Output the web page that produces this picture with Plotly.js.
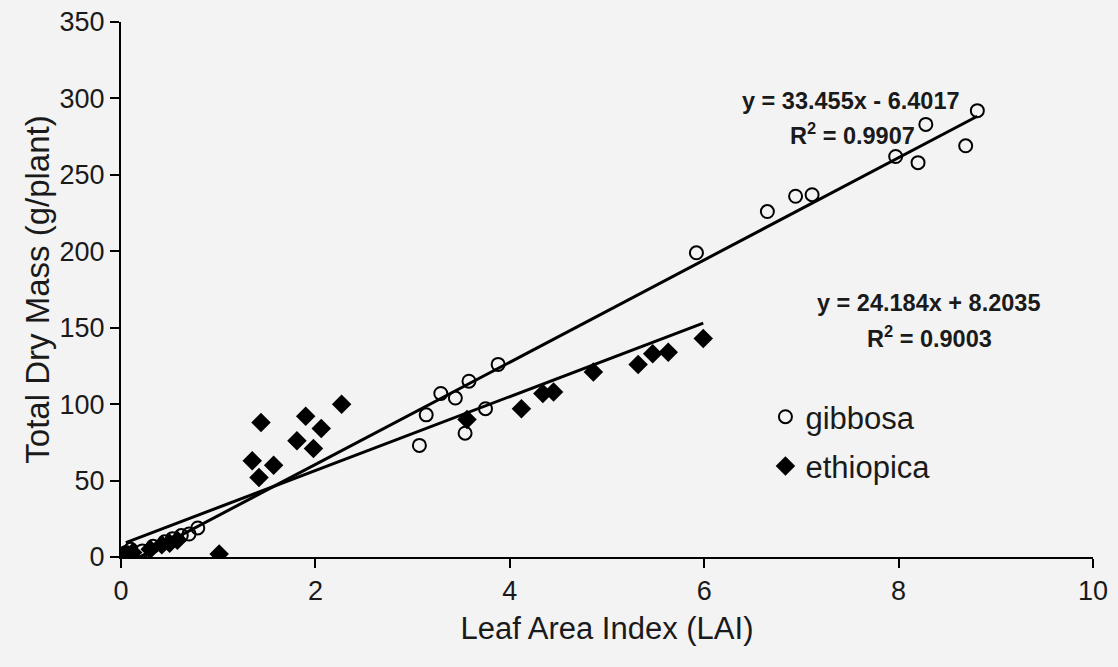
<!DOCTYPE html>
<html>
<head>
<meta charset="utf-8">
<script src="https://cdn.plot.ly/plotly-3.0.1.min.js"></script>
<style>
  html, body { margin: 0; padding: 0; background: #f3f3f3; }
  #chart { width: 1118px; height: 667px; }
</style>
</head>
<body>
<div id="chart"></div>
<script>
// Leaf area index vs. total dry mass for two species
const gibbosaLAI  = [0.05, 0.10, 0.22, 0.33, 0.45, 0.53, 0.62, 0.70, 0.79,
                     3.07, 3.14, 3.29, 3.44, 3.54, 3.58, 3.75, 3.88,
                     5.92, 6.65, 6.94, 7.11, 7.97, 8.20, 8.28, 8.69, 8.81];
const gibbosaMass = [3, 5, 4, 7, 10, 12, 14, 15, 19,
                     73, 93, 107, 104, 81, 115, 97, 126,
                     199, 226, 236, 237, 262, 258, 283, 269, 292];

const ethiopicaLAI  = [0.05, 0.12, 0.30, 0.42, 0.50, 0.58, 1.01,
                       1.35, 1.42, 1.44, 1.57, 1.81, 1.90, 1.98, 2.06, 2.27,
                       3.56, 4.12, 4.34, 4.45, 4.86, 5.32, 5.47, 5.63, 5.99];
const ethiopicaMass = [2, 3, 5, 8, 9, 11, 2,
                       63, 52, 88, 60, 76, 92, 71, 84, 100,
                       90, 97, 107, 108, 121, 126, 133, 134, 143];

// Linear fits (slope, intercept, R²)
const gibbosaFit   = { slope: 33.455, intercept: -6.4017, r2: "0.9907" };
const ethiopicaFit = { slope: 24.184, intercept: 8.2035,  r2: "0.9003" };

const xTicks = [0, 2, 4, 6, 8, 10];
const yTicks = [0, 50, 100, 150, 200, 250, 300, 350];

function fitLine(xs, fit) {
  const x0 = Math.min(...xs), x1 = Math.max(...xs);
  return { x: [x0, x1], y: [fit.slope * x0 + fit.intercept, fit.slope * x1 + fit.intercept] };
}
const gLine = fitLine(gibbosaLAI, gibbosaFit);
const eLine = fitLine(ethiopicaLAI, ethiopicaFit);

function eqText(fit) {
  const sign = fit.intercept < 0 ? "-" : "+";
  return "y = " + fit.slope.toFixed(3) + "x " + sign + " " + Math.abs(fit.intercept).toFixed(4);
}

const FONT = "Liberation Sans, Arial, sans-serif";
const INK = "#1a1a1a";
const eqFont = { family: FONT, size: 23.5, color: INK, weight: "bold" };

const traces = [
  { x: gLine.x, y: gLine.y, mode: "lines", line: { color: "#000", width: 3 },
    showlegend: false, hoverinfo: "skip" },
  { x: eLine.x, y: eLine.y, mode: "lines", line: { color: "#000", width: 3 },
    showlegend: false, hoverinfo: "skip" },
  { x: gibbosaLAI, y: gibbosaMass, mode: "markers", name: "gibbosa", legendgroup: "g",
    marker: { symbol: "circle-open", size: 13, color: "#000", line: { width: 2, color: "#000" } } },
  { x: ethiopicaLAI, y: ethiopicaMass, mode: "markers", name: "ethiopica", legendgroup: "e",
    marker: { symbol: "diamond", size: 15, color: "#000" } }
];

const layout = {
  width: 1118, height: 667,
  paper_bgcolor: "#f3f3f3", plot_bgcolor: "rgba(0,0,0,0)",
  margin: { l: 121, r: 25, t: 22, b: 110 },
  font: { family: FONT, color: INK, size: 24 },
  xaxis: {
    range: [0, 10], tickvals: xTicks, ticktext: xTicks.map(String),
    showgrid: false, zeroline: false, showline: true, linecolor: "#000", linewidth: 2,
    ticks: "outside", ticklen: 9, tickwidth: 2, tickcolor: "#000",
    tickfont: { family: FONT, size: 27, color: INK },
    title: { text: "Leaf Area Index (LAI)", font: { family: FONT, size: 31, color: INK }, standoff: 12 }
  },
  yaxis: {
    range: [0, 350], tickvals: yTicks, ticktext: yTicks.map(String),
    showgrid: false, zeroline: false, showline: true, linecolor: "#000", linewidth: 2,
    ticks: "outside", ticklen: 9, tickwidth: 2, tickcolor: "#000",
    tickfont: { family: FONT, size: 27, color: INK },
    title: { text: "Total Dry Mass (g/plant)", font: { family: FONT, size: 33, color: INK }, standoff: 0 }
  },
  legend: {
    x: 0.663, y: 0.312, xanchor: "left", yanchor: "top",
    bgcolor: "rgba(0,0,0,0)", font: { family: FONT, size: 31, color: INK },
    itemwidth: 30, tracegroupgap: 6
  },
  annotations: [
    { x: (851 - 121) / 97.2, y: 298, xref: "x", yref: "y", showarrow: false,
      text: eqText(gibbosaFit), font: eqFont },
    { x: (852 - 121) / 97.2, y: 277, xref: "x", yref: "y", showarrow: false,
      text: "R<sup>2</sup> = " + gibbosaFit.r2, font: eqFont },
    { x: (928 - 121) / 97.2, y: 166, xref: "x", yref: "y", showarrow: false,
      text: eqText(ethiopicaFit), font: eqFont },
    { x: (929 - 121) / 97.2, y: 144, xref: "x", yref: "y", showarrow: false,
      text: "R<sup>2</sup> = " + ethiopicaFit.r2, font: eqFont }
  ]
};

Plotly.newPlot("chart", traces, layout, { displayModeBar: false, staticPlot: true });
</script>
</body>
</html>
